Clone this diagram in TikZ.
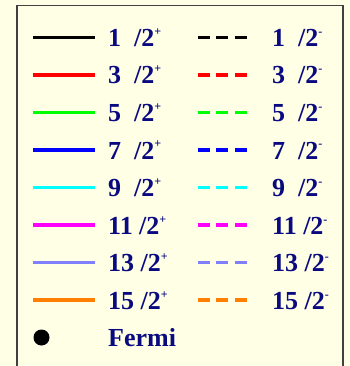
\documentclass[tikz,border=0pt]{standalone}
\usepackage{fontspec}
\setmainfont{Liberation Serif}
\usepackage{tikz}

\definecolor{bgyellow}{RGB}{255,255,230}
\definecolor{labelblue}{RGB}{10,10,128}
\definecolor{jgreen}{RGB}{0,255,0}
\definecolor{jcyan}{RGB}{0,255,255}
\definecolor{jmagenta}{RGB}{255,0,255}
\definecolor{jlightblue}{RGB}{128,128,255}
\definecolor{jorange}{RGB}{255,128,0}

\newcommand{\parsup}[1]{\raisebox{11pt}{\fontsize{12}{12}\selectfont #1}}

\begin{document}
\begin{tikzpicture}[x=1pt,y=-1pt,
    solidline/.style={line width=3.2pt},
    dashline/.style={line width=3.2pt,dash pattern=on 11.7pt off 6.7pt},
    jlabel/.style={anchor=base west,inner sep=0pt,text=labelblue,
      font=\fontsize{26}{30}\selectfont\bfseries}]

\useasboundingbox (0,0) rectangle (349,366);
\fill[bgyellow] (0,0) rectangle (349,366);
\draw[line width=1.5pt,black!75] (17,5.5) rectangle (343,380);

% positive parity, left column
\draw[solidline,black] (33,37.5) -- (95,37.5);
\node[jlabel] (p1) at (108,46.5) {1\hspace{0.5em}/2\parsup{+}};
\draw[solidline,red] (33,75) -- (95,75);
\node[jlabel] (p3) at (108,84) {3\hspace{0.5em}/2\parsup{+}};
\draw[solidline,jgreen] (33,112.5) -- (95,112.5);
\node[jlabel] (p5) at (108,121.5) {5\hspace{0.5em}/2\parsup{+}};
\draw[solidline,blue] (33,150) -- (95,150);
\node[jlabel] (p7) at (108,159) {7\hspace{0.5em}/2\parsup{+}};
\draw[solidline,jcyan] (33,187.5) -- (95,187.5);
\node[jlabel] (p9) at (108,196.5) {9\hspace{0.5em}/2\parsup{+}};
\draw[solidline,jmagenta] (33,225) -- (95,225);
\node[jlabel] (p11) at (108,234) {11 /2\parsup{+}};
\draw[solidline,jlightblue] (33,262.5) -- (95,262.5);
\node[jlabel] (p13) at (108,271.5) {13 /2\parsup{+}};
\draw[solidline,jorange] (33,300) -- (95,300);
\node[jlabel] (p15) at (108,309) {15 /2\parsup{+}};

% negative parity, right column
\draw[dashline,black] (198,37.5) -- (248.3,37.5);
\node[jlabel] (m1) at (272,46.5) {1\hspace{0.5em}/2\parsup{-}};
\draw[dashline,red] (198,75) -- (248.3,75);
\node[jlabel] (m3) at (272,84) {3\hspace{0.5em}/2\parsup{-}};
\draw[dashline,jgreen] (198,112.5) -- (248.3,112.5);
\node[jlabel] (m5) at (272,121.5) {5\hspace{0.5em}/2\parsup{-}};
\draw[dashline,blue] (198,150) -- (248.3,150);
\node[jlabel] (m7) at (272,159) {7\hspace{0.5em}/2\parsup{-}};
\draw[dashline,jcyan] (198,187.5) -- (248.3,187.5);
\node[jlabel] (m9) at (272,196.5) {9\hspace{0.5em}/2\parsup{-}};
\draw[dashline,jmagenta] (198,225) -- (248.3,225);
\node[jlabel] (m11) at (272,234) {11 /2\parsup{-}};
\draw[dashline,jlightblue] (198,262.5) -- (248.3,262.5);
\node[jlabel] (m13) at (272,271.5) {13 /2\parsup{-}};
\draw[dashline,jorange] (198,300) -- (248.3,300);
\node[jlabel] (m15) at (272,309) {15 /2\parsup{-}};

% Fermi level
\fill[black] (41.5,337.5) circle (8);
\node[jlabel] (fermi) at (108,346.5) {Fermi};

\end{tikzpicture}
\end{document}
